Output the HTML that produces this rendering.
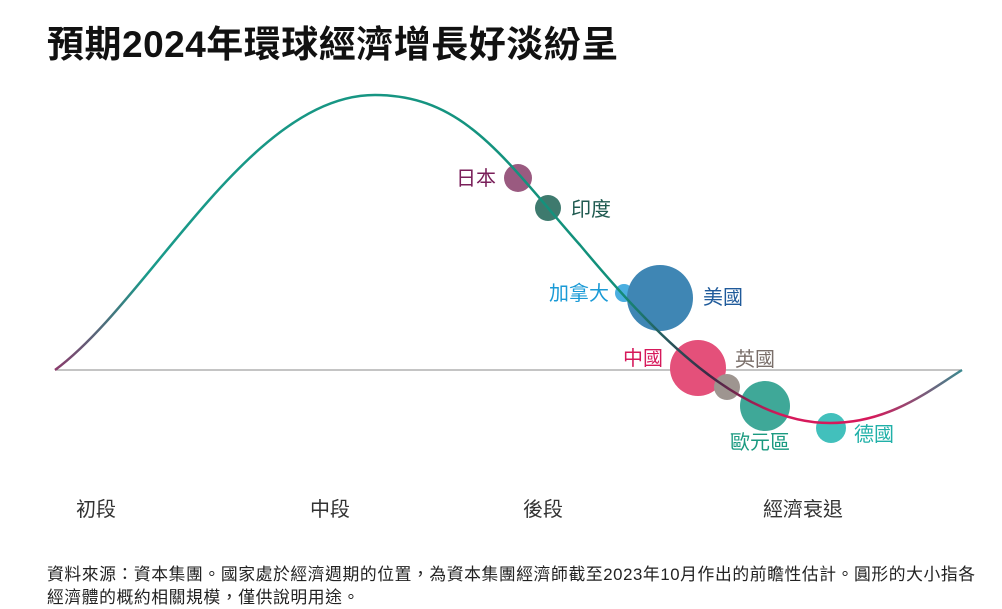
<!DOCTYPE html>
<html><head><meta charset="utf-8"><style>
body{margin:0;background:#fff;width:1002px;height:606px;overflow:hidden;font-family:"Liberation Sans","Noto Sans CJK TC",sans-serif}
.t{position:absolute;left:47px;top:14px;font-size:37px;font-weight:bold;color:#111;letter-spacing:0.5px;white-space:nowrap}
.src{position:absolute;left:47px;top:563px;font-size:16.8px;color:#222;line-height:23px;width:960px;letter-spacing:0.6px;white-space:nowrap}
</style></head><body>
<div class="t">預期2024年環球經濟增長好淡紛呈</div>
<svg id="c" width="1002" height="606" style="position:absolute;left:0;top:0">
<defs><linearGradient id="g" gradientUnits="userSpaceOnUse" x1="55" y1="0" x2="962" y2="0">
<stop offset="0" stop-color="#8b3a6b"/><stop offset="0.1" stop-color="#1a9a8a"/><stop offset="0.62" stop-color="#12907a"/><stop offset="0.72" stop-color="#3a2a45"/><stop offset="0.8" stop-color="#d6195b"/><stop offset="0.9" stop-color="#d6195b"/><stop offset="1" stop-color="#3a8a90"/></linearGradient></defs>
<line x1="55" y1="370" x2="962" y2="370" stroke="#888" stroke-width="1"/>
<g id="bub"></g>
<path id="curve" fill="none" stroke="url(#g)" stroke-width="2.5" d="M55,370 C150,300 250,95 375,95 C465,95 505,160 580,245 C655,335 740,423 830,423 C890,423 930,390 962,370"/>
<g id="lab"></g>
<g font-size="20" fill="#333" text-anchor="middle">
<text x="96" y="516">初段</text>
<text x="330" y="516">中段</text>
<text x="543" y="516">後段</text>
<text x="803" y="516">經濟衰退</text>
</g>
</svg>
<div class="src">資料來源：資本集團。國家處於經濟週期的位置，為資本集團經濟師截至2023年10月作出的前瞻性估計。圓形的大小指各<br>經濟體的概約相關規模，僅供說明用途。</div>
<script>
const countries=["日本","印度","加拿大","美國","中國","英國","歐元區","德國"];
const cycleX=[518,548,624,660,698,727,765,831];
const cycleY=[178,208,293,298,368,387,406,428];
const sizes=[14,13,9,33,28,13,25,15];
const fills=["#9a5a80","#3e7a6e","#4aaee0","#3f86b4","#e4507a","#9e9590","#3fa898","#42c0bc"];
const labColors=["#7a1f5a","#1f5a50","#1a9ad6","#1f5a9a","#d6195b","#7a6f6a","#1a9a80","#20b0a8"];
const ns="http://www.w3.org/2000/svg";
const lab=[[-8,0,"end"],[10,1,"start"],[-6,0,"end"],[10,-1,"start"],[-7,-10,"end"],[8,-28,"start"],[-5,36,"middle"],[8,6,"start"]];
countries.forEach((c,i)=>{const x=cycleX[i],y=cycleY[i],r=sizes[i];
const ci=document.createElementNS(ns,'circle');ci.setAttribute('cx',x);ci.setAttribute('cy',y);ci.setAttribute('r',r);ci.setAttribute('fill',fills[i]);


document.getElementById('bub').appendChild(ci);
const t=document.createElementNS(ns,'text');const o=lab[i];
let tx=o[2]=="middle"?x+o[0]:(o[2]=="end"?x-r+o[0]:x+r+o[0]);
if(i==5){tx=x+o[0];}
t.setAttribute('x',tx);t.setAttribute('y',y+o[1]+7);
t.setAttribute('text-anchor',o[2]);t.setAttribute('font-size','20');t.setAttribute('fill',labColors[i]);
t.textContent=c;


document.getElementById('lab').appendChild(t);});
</script>
</body></html>
